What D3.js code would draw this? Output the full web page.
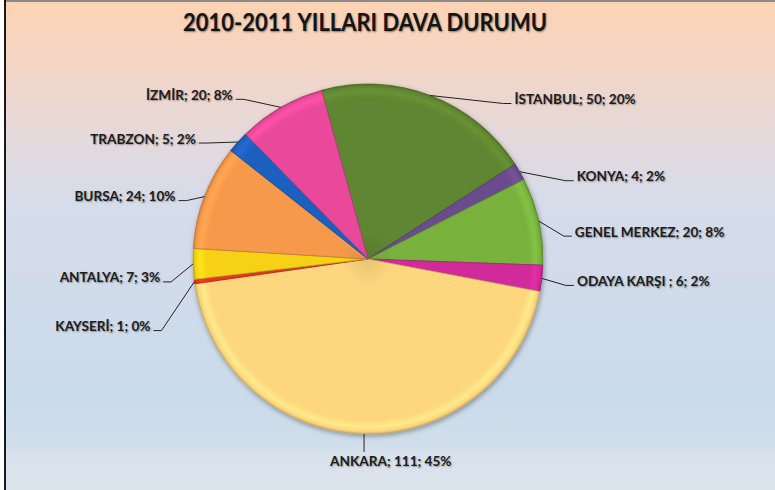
<!DOCTYPE html>
<html><head><meta charset="utf-8">
<script src="https://cdn.jsdelivr.net/npm/d3@7"></script>
<style>html,body{margin:0;padding:0;background:#fff;overflow:hidden} svg{display:block}</style>
</head><body>
<svg id="chart" width="775" height="490"></svg>
<script>
// ---- data ----
const titleText = "2010-2011 YILLARI DAVA DURUMU";
const categories = ["İSTANBUL","KONYA","GENEL MERKEZ","ODAYA KARŞI ","ANKARA","KAYSERİ","ANTALYA","BURSA","TRABZON","İZMİR"];
const values = [50, 4, 20, 6, 111, 1, 7, 24, 5, 20];

// ---- style / layout ----
const colors = ["#5f8630","#6b4c8e","#78b23d","#d12a9b","#fdd67e","#e6341f","#f6d118","#f7994b","#1f61bf","#ea4a9b"];
// leader end offset relative to slice edge point (label layout tweaks)
const leaderOffsets = [[81,8],[54,9],[33,15],[32,7],[0,18],[-41,49],[-30,18],[-26,4],[-39,1],[-45,-8]];
const W = 775, H = 490, cx = 368, cy = 259, R = 175;
const startDeg = -15.4;

const svg = d3.select("#chart");
const defs = svg.append("defs");

// background gradient
const bg = defs.append("linearGradient").attr("id","bg").attr("x1",0).attr("y1",0).attr("x2",0).attr("y2",1);
[[0,"#fcd3b4"],[0.16,"#f0d6ca"],[0.32,"#e0dae1"],[0.42,"#d5dcea"],[0.82,"#cadbea"],[0.91,"#d1deeb"],[0.93,"#d9e2ec"],[1,"#dbe3ed"]]
  .forEach(([o,c]) => bg.append("stop").attr("offset",o).attr("stop-color",c));

const shadow = defs.append("filter").attr("id","shadow").attr("x","-20%").attr("y","-20%").attr("width","140%").attr("height","140%");
shadow.append("feDropShadow").attr("dx",1).attr("dy",2).attr("stdDeviation",2.5).attr("flood-color","#000").attr("flood-opacity",0.35);

svg.append("rect").attr("x",0).attr("y",0).attr("width",W).attr("height",H).attr("fill","#fff");
svg.append("rect").attr("x",6).attr("y",2).attr("width",W-6).attr("height",H-2).attr("fill","url(#bg)");
svg.append("rect").attr("x",4).attr("y",0).attr("width",2).attr("height",H).attr("fill","#1a1a1a");
svg.append("rect").attr("x",6).attr("y",0).attr("width",W-6).attr("height",2).attr("fill","#8a8a8a");

// title
svg.append("text").attr("x",365).attr("y",31).attr("text-anchor","middle")
  .attr("font-family","Lato, 'Open Sans', sans-serif").attr("font-weight","bold").attr("font-size",25)
  .attr("textLength",364).attr("lengthAdjust","spacingAndGlyphs")
  .attr("fill","#141414").style("text-shadow","1px 1px 2px rgba(0,0,0,0.45)")
  .text(titleText);

const data = categories.map((c,i)=>({name:c, value:values[i], color:colors[i], off:leaderOffsets[i]}));
const total = d3.sum(values);
const pct = d3.format(".0%");
const s0 = startDeg*Math.PI/180;
const pie = d3.pie().sort(null).value(d=>d.value).startAngle(s0).endAngle(s0+2*Math.PI);
const arcs = pie(data);
const arc = d3.arc().innerRadius(0).outerRadius(R);

const g = svg.append("g").attr("transform",`translate(${cx},${cy})`);

// per-slice radial gradient for bevel look
arcs.forEach((a,i)=>{
  const c = d3.color(a.data.color);
  const gr = defs.append("radialGradient").attr("id","sg"+i).attr("gradientUnits","userSpaceOnUse")
    .attr("cx",0).attr("cy",0).attr("r",R);
  [[0,c.darker(0.25)],[0.15,c],[0.92,c],[0.96,c.brighter(0.25)],[0.985,c],[1,c.darker(0.5)]]
    .forEach(([o,col])=>gr.append("stop").attr("offset",o).attr("stop-color",col.formatHex()));
});

const pieG = g.append("g").attr("filter","url(#shadow)");
pieG.selectAll("path").data(arcs).join("path")
  .attr("d",arc)
  .attr("fill",(d,i)=>`url(#sg${i})`)
  .attr("stroke",d=>d3.color(d.data.color).darker(0.7).formatHex())
  .attr("stroke-width",0.8)
  .attr("stroke-linejoin","round");

// leaders and labels
const lab = svg.append("g").attr("font-family","Lato, 'Open Sans', sans-serif").attr("font-weight","bold")
  .attr("font-size",13.6).attr("fill","#1c1c1c");
arcs.forEach(a=>{
  const mid = (a.startAngle+a.endAngle)/2;
  const ex = cx + R*Math.sin(mid), ey = cy - R*Math.cos(mid);
  const tx = ex + a.data.off[0], ty = ey + a.data.off[1];
  const label = `${a.data.name}; ${a.data.value}; ${pct(a.data.value/total)}`;
  let pts, anchor, lx, ly;
  if (Math.abs(a.data.off[0]) < 1) {
    pts = [[ex,ey],[tx,ty]]; anchor="start"; lx=tx-34; ly=ty+14;
  } else {
    const side = a.data.off[0] > 0 ? 1 : -1;
    pts = [[ex,ey],[tx - side*8, ty],[tx,ty]];
    anchor = side>0 ? "start" : "end"; lx = tx + side*3; ly = ty + 0.5;
  }
  svg.append("path").attr("d",d3.line()(pts)).attr("fill","none").attr("stroke","#222").attr("stroke-width",1);
  lab.append("text").attr("x",lx).attr("y",ly).attr("text-anchor",anchor)
    .style("text-shadow","1px 1px 1.5px rgba(0,0,0,0.35)").text(label);
});
</script>
</body></html>
